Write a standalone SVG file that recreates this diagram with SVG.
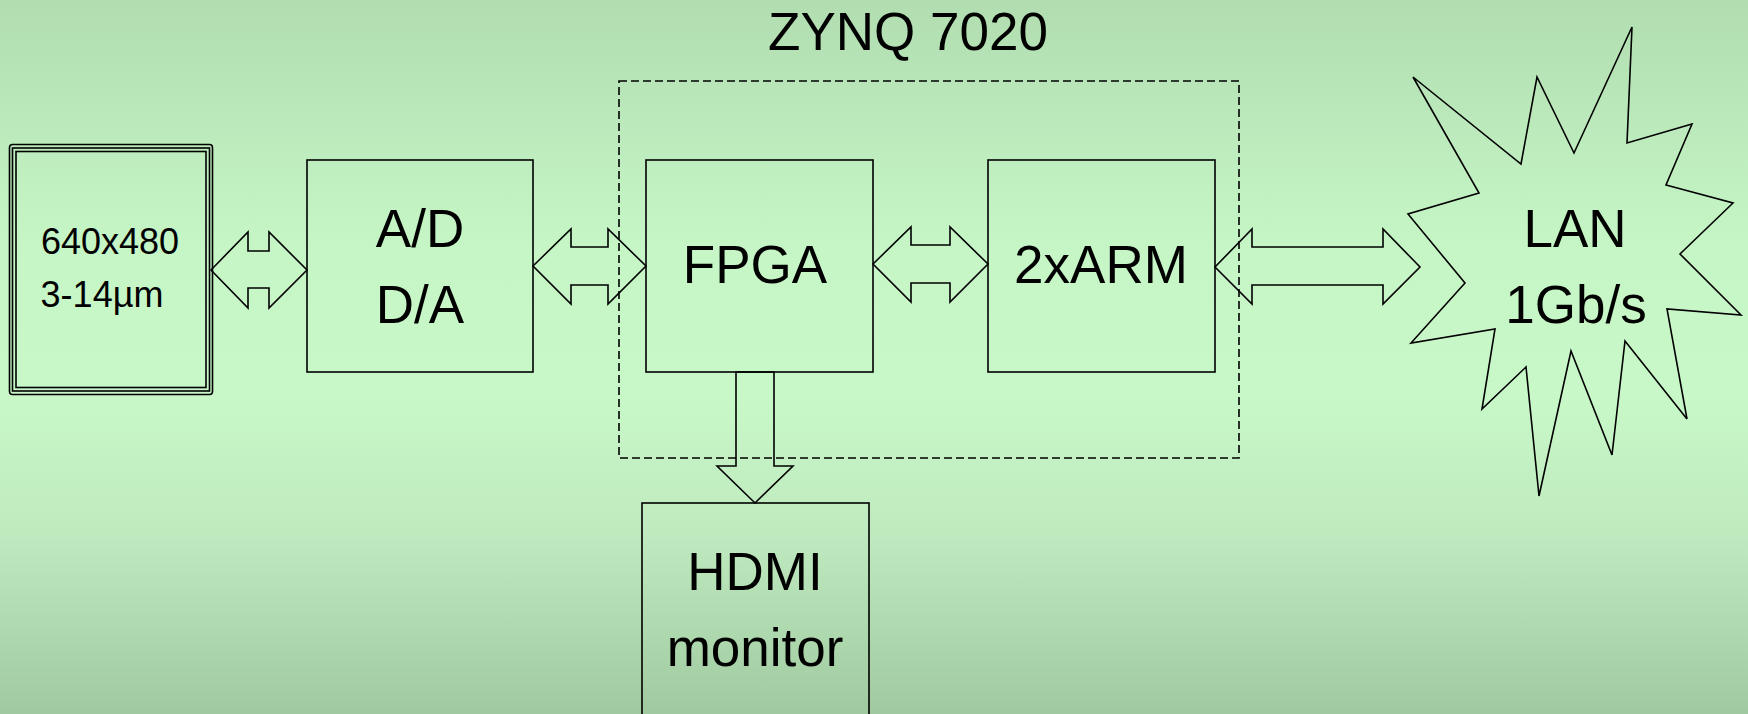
<svg xmlns="http://www.w3.org/2000/svg" width="1748" height="714" viewBox="0 0 1748 714">
<defs>
<linearGradient id="bg" x1="0" y1="0" x2="0" y2="1">
<stop offset="0" stop-color="#b1ddb1"/>
<stop offset="0.35" stop-color="#c6f6c6"/>
<stop offset="0.55" stop-color="#c8f8c8"/>
<stop offset="0.75" stop-color="#bfeabf"/>
<stop offset="1" stop-color="#a0c9a0"/>
</linearGradient>
</defs>
<style>
.box{fill:none;stroke:#000;stroke-width:1.6}
.arr{fill:none;stroke:#000;stroke-width:1.6;stroke-linejoin:miter}
.dash{fill:none;stroke:#000;stroke-width:1.6;stroke-dasharray:8 4}
.t{font-family:"Liberation Sans",Arial,sans-serif;fill:#000;text-anchor:middle}
.big{font-size:53px}
.small{font-size:36px}
</style>
<rect x="0" y="0" width="1748" height="714" fill="url(#bg)"/>

<g id="zynq">
<rect class="dash" x="619" y="81" width="620" height="377"/>
<text class="t big" x="908" y="50">ZYNQ 7020</text>
</g>

<g id="sensor">
<rect class="box" x="9.5" y="144.5" width="203" height="250" rx="3"/>
<rect class="box" x="12.5" y="148" width="197" height="243"/>
<rect class="box" x="16" y="151.5" width="190" height="236"/>
<text class="t small" x="110" y="254">640x480</text>
<text class="t small" x="102" y="307">3-14µm</text>
</g>

<g id="adda">
<rect class="box" x="307" y="160" width="226" height="212"/>
<text class="t big" x="420" y="247">A/D</text>
<text class="t big" x="420" y="323">D/A</text>
</g>

<g id="fpga">
<rect class="box" x="646" y="160" width="227" height="212"/>
<text class="t big" x="755" y="283">FPGA</text>
</g>

<g id="arm">
<rect class="box" x="988" y="160" width="227" height="212"/>
<text class="t big" x="1101" y="283">2xARM</text>
</g>

<g id="hdmi">
<rect class="box" x="642" y="503" width="227" height="230"/>
<text class="t big" x="755" y="590">HDMI</text>
<text class="t big" x="755" y="666">monitor</text>
</g>

<g id="lan">
<polygon class="box" points="1632,27 1627,143 1692,124 1666,185 1733,203 1680,254 1741,315 1667,309 1687,419 1625,341 1612,455 1571,351 1539,496 1526,367 1482,409 1495,329 1411,343 1465,283 1408,214 1479,193 1413,77 1521,164 1537,77 1574,153"/>
<text class="t big" x="1575" y="247">LAN</text>
<text class="t big" x="1576" y="323">1Gb/s</text>
</g>

<g id="connectors">
<polygon class="arr" points="211,270 248,232 248,251 269,251 269,232 307,270 269,308 269,288 248,288 248,308"/>
<polygon class="arr" points="533,266 571,229 571,247 608,247 608,229 646,266 608,304 608,285 571,285 571,304"/>
<polygon class="arr" points="873,264 911,227 911,245 950,245 950,227 988,264 950,302 950,283 911,283 911,302"/>
<polygon class="arr" points="1215,267 1252,229 1252,247 1383,247 1383,229 1420,267 1383,304 1383,285 1252,285 1252,304"/>
<polygon class="arr" points="736,372 774,372 774,466 793,466 755,503 717,466 736,466"/>
</g>
</svg>
